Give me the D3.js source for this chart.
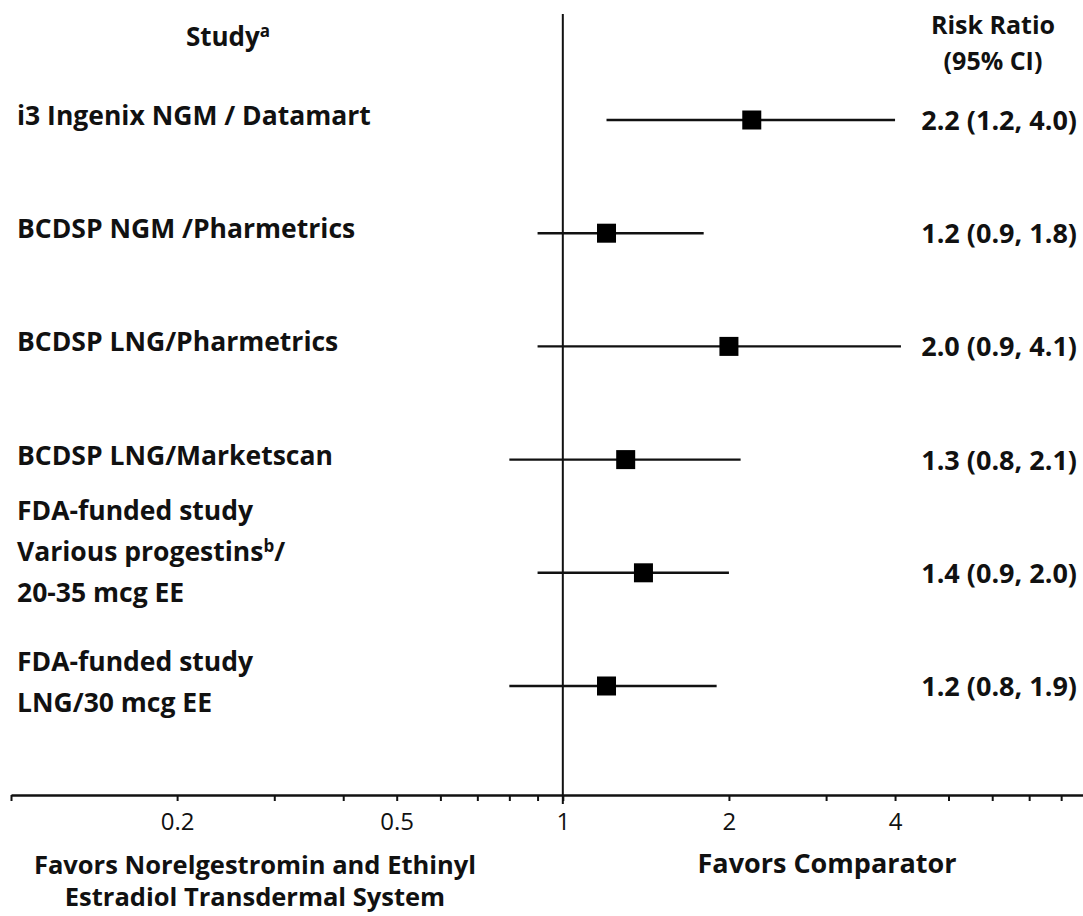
<!DOCTYPE html>
<html>
<head>
<meta charset="utf-8">
<script src="https://cdn.jsdelivr.net/npm/d3@7"></script>
<style>
  body { margin: 0; background: #fff; }
  text { font-family: 'Open Sans', sans-serif; fill: #111; }
</style>
</head>
<body>
<div id="container"></div>
<script>
// study rows, "^x" marks a superscript letter
const studies = [
  ['i3 Ingenix NGM / Datamart'],
  ['BCDSP NGM /Pharmetrics'],
  ['BCDSP LNG/Pharmetrics'],
  ['BCDSP LNG/Marketscan'],
  ['FDA-funded study', 'Various progestins^b/', '20-35 mcg EE'],
  ['FDA-funded study', 'LNG/30 mcg EE'],
];
const riskRatio = [2.2, 1.2, 2.0, 1.3, 1.4, 1.2];
const ciLow = [1.2, 0.9, 0.9, 0.8, 0.9, 0.8];
const ciHigh = [4.0, 1.8, 4.1, 2.1, 2.0, 1.9];

const tickValues = [0.1, 0.2, 0.3, 0.4, 0.5, 0.6, 0.7, 0.8, 0.9, 1, 2, 3, 4, 5, 6, 7, 8];
const tickLabels = [0.2, 0.5, 1, 2, 4];

const width = 1083; const height = 916;
const axisY = 795;
const fs = 26.5;

const svg = d3.select('#container').append('svg')
    .attr('width', width)
    .attr('height', height);

const x = d3.scaleLog().domain([0.1, 8.8]).range([11, 1084]);
const y = d3.scalePoint().domain(d3.range(studies.length)).range([120, 686]);

// writes a line, turning "^b" into a raised small letter
function addLine(sel, str) {
  const parts = str.split(/\^(\w)/);
  parts.forEach((p, i) => {
    if (!p) return;
    if (i % 2 === 1) {
      sel.append('tspan').attr('dy', -9).style('font-size', '17px').text(p);
    } else {
      const t = sel.append('tspan').text(p);
      if (i > 0) t.attr('dy', 9);
    }
  });
}

function bold(sel, size) {
  return sel.style('font-size', size + 'px').style('font-weight', 700);
}

// headers
const study = bold(svg.append('text').attr('x', 228).attr('y', 46)
    .attr('text-anchor', 'middle'), 26);
addLine(study, 'Study^a');

bold(svg.append('text').attr('x', 993).attr('y', 34).attr('text-anchor', 'middle'), 25)
    .text('Risk Ratio');
bold(svg.append('text').attr('x', 993).attr('y', 70).attr('text-anchor', 'middle'), 25)
    .text('(95% CI)');

// line of no effect
svg.append('line')
    .attr('x1', x(1)).attr('x2', x(1))
    .attr('y1', 14).attr('y2', 804)
    .attr('stroke', '#111').attr('stroke-width', 2);

// rows
const rows = svg.append('g').selectAll('g')
    .data(studies.map((s, i) => ({label: s, rr: riskRatio[i], lo: ciLow[i], hi: ciHigh[i], i: i})))
    .join('g');

rows.append('line')
    .attr('x1', (d) => x(d.lo)).attr('x2', (d) => x(d.hi))
    .attr('y1', (d) => y(d.i)).attr('y2', (d) => y(d.i))
    .attr('stroke', '#111').attr('stroke-width', 2.4);

rows.append('rect')
    .attr('x', (d) => x(d.rr) - 9.5).attr('y', (d) => y(d.i) - 9.5)
    .attr('width', 19).attr('height', 19)
    .attr('fill', '#000');

rows.each(function(d) {
  const g = d3.select(this);
  const n = d.label.length;
  const mid = y(d.i) + 5 - (n > 2 ? 17 : 0);
  d.label.forEach((l, k) => {
    const t = bold(g.append('text')
        .attr('x', 17)
        .attr('y', mid + (k - (n - 1) / 2) * 41), fs);
    addLine(t, l);
  });
});

bold(rows.append('text')
    .attr('x', 1077).attr('y', (d) => y(d.i) + 10)
    .attr('text-anchor', 'end'), 27)
    .text((d) => d.rr.toFixed(1) + ' (' + d.lo.toFixed(1) + ', ' + d.hi.toFixed(1) + ')');

// axis
const axis = svg.append('g')
    .attr('transform', 'translate(0,' + axisY + ')')
    .call(d3.axisBottom(x)
        .tickValues(tickValues)
        .tickSize(6)
        .tickSizeOuter(0)
        .tickPadding(12)
        .tickFormat((d) => tickLabels.includes(d) ? d : ''));
axis.select('.domain').attr('stroke', '#111').attr('stroke-width', 2.5);
axis.selectAll('.tick line').attr('stroke', '#111').attr('stroke-width', 2);
axis.selectAll('.tick text')
    .style('font-family', '\'Open Sans\', sans-serif')
    .style('font-size', '24px').attr('fill', '#111');

// favour labels
bold(svg.append('text').attr('x', 255).attr('y', 874).attr('text-anchor', 'middle'), 25.5)
    .text('Favors Norelgestromin and Ethinyl');
bold(svg.append('text').attr('x', 255).attr('y', 906).attr('text-anchor', 'middle'), 25.5)
    .text('Estradiol Transdermal System');
bold(svg.append('text').attr('x', 827).attr('y', 873).attr('text-anchor', 'middle'), 27)
    .text('Favors Comparator');
</script>
</body>
</html>
